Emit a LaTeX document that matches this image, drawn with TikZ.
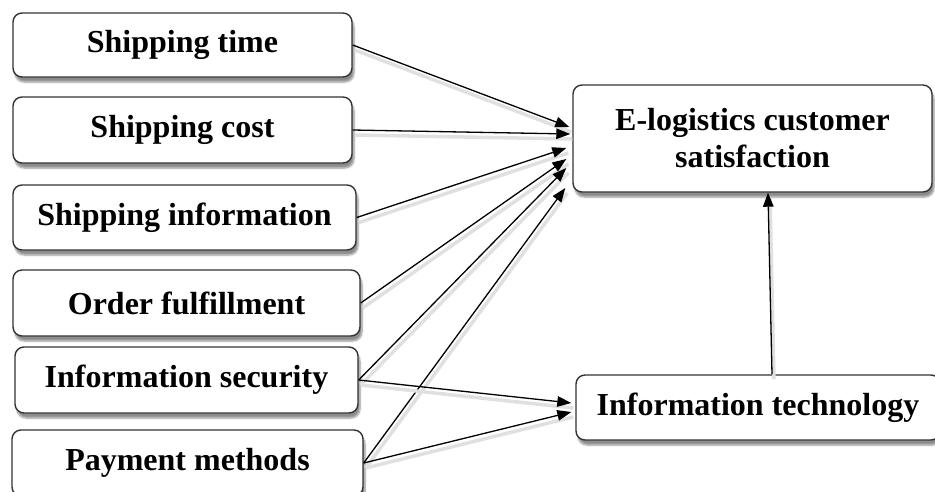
\documentclass[tikz,border=0pt]{standalone}
\usepackage{fontspec}
\setmainfont{Liberation Serif}
\usetikzlibrary{arrows.meta,shadows.blur,positioning}

\tikzset{
  factor/.style={draw=black!80, line width=1.4pt, rounded corners=9pt, fill=white,
    inner sep=0pt, align=center,
    font=\fontsize{32}{37}\selectfont\bfseries,
    blur shadow={shadow xshift=2pt, shadow yshift=-5pt, shadow blur steps=6, shadow opacity=45}},
  link/.style={-{Triangle[length=14pt,width=10.5pt]}, line width=1.3pt, black,
    preaction={draw=black!12, line width=3.5pt, -, transform canvas={shift={(2pt,-5pt)}}}}
}

\begin{document}
\begin{tikzpicture}[x=1pt,y=-1pt]
  \useasboundingbox (0,0) rectangle (935,491);
  \clip (0,0) rectangle (935,491);

  % determinants on the left
  \node[factor, minimum width=339pt, minimum height=64pt] (st) at (182.5,45)  {Shipping time};
  \node[factor, minimum width=339pt, minimum height=66pt] (sc) at (182.5,130) {Shipping cost};
  \node[factor, minimum width=343pt, minimum height=65pt] (si) at (184.5,217.5) {Shipping information};
  \node[factor, minimum width=347pt, minimum height=66pt] (of) at (186.5,303) {Order fulfillment};
  \node[factor, minimum width=343pt, minimum height=66pt] (is) at (186.5,380) {Information security};
  \node[factor, minimum width=351pt, minimum height=66pt] (pm) at (187.5,463) {Payment methods};

  % outcome and mediator
  \node[factor, minimum width=359pt, minimum height=107pt] (el) at (752.5,138.5)
    {E-logistics customer\\satisfaction};
  \node[factor, minimum width=364pt, minimum height=65pt] (it) at (758,407.5)
    {Information technology};

  % paths into customer satisfaction
  \draw[link] (st.east) -- ([xshift=-3pt,yshift=11.5pt]el.west);
  \draw[link] (sc.east) -- ([xshift=-2pt,yshift=4.5pt]el.west);
  \draw[link] (si.east) -- ([xshift=-6pt,yshift=-9.5pt]el.west);
  \draw[link] (of.east) -- ([xshift=-6pt,yshift=-20.5pt]el.west);
  \draw[link] (is.east) -- ([xshift=-6pt,yshift=-29.5pt]el.west);
  \draw[link] (pm.east) -- ([xshift=-7pt,yshift=-49.5pt]el.west);

  % paths into information technology
  \draw[link] (is.east) -- ([xshift=-4pt,yshift=4.5pt]it.west);
  \draw[link] (pm.east) -- ([xshift=-4pt,yshift=-4.5pt]it.west);

  % information technology to satisfaction
  \draw[link] ([xshift=14pt]it.north) -- ([xshift=15.5pt]el.south);
\end{tikzpicture}
\end{document}
